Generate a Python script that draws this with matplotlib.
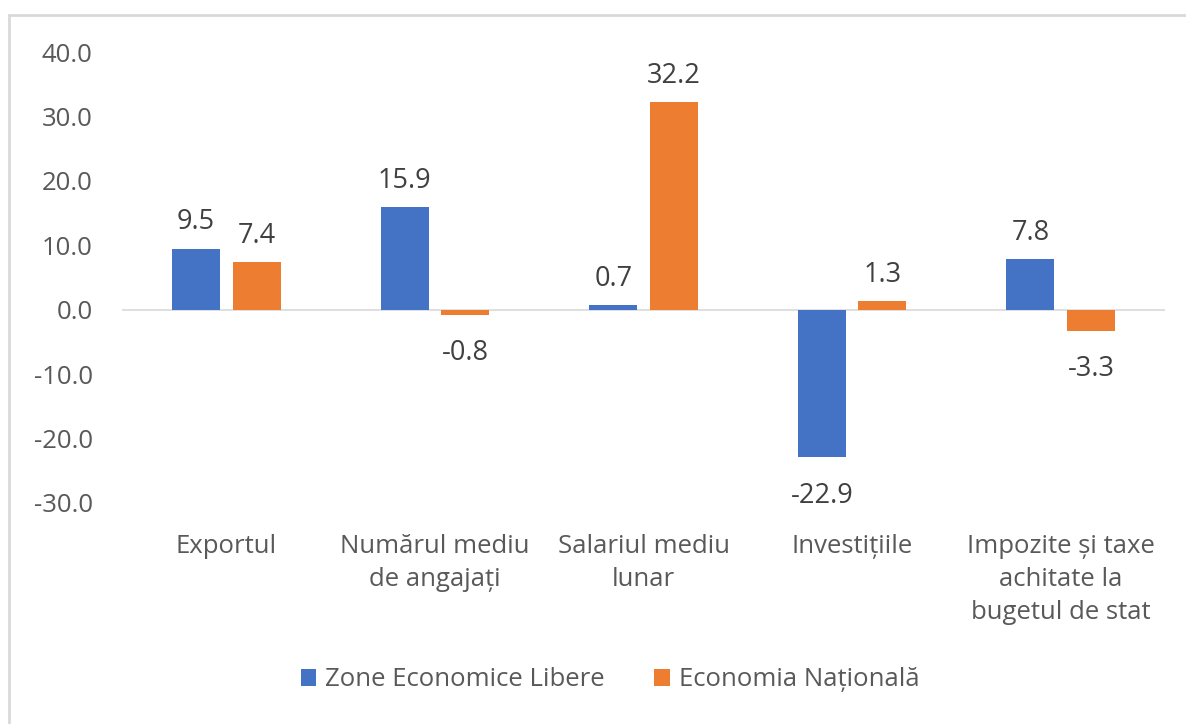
import numpy as np
import matplotlib.pyplot as plt
from matplotlib.patches import Rectangle

categories = ["Exportul", "Numărul mediu\nde angajați", "Salariul mediu\nlunar",
              "Investițiile", "Impozite și taxe\nachitate la\nbugetul de stat"]
zel = [9.5, 15.9, 0.7, -22.9, 7.8]
national = [7.4, -0.8, 32.2, 1.3, -3.3]
series_names = ["Zone Economice Libere", "Economia Națională"]

blue = "#4472C4"
orange = "#ED7D31"
gray_txt = "#595959"

plt.rcParams["font.family"] = ["Open Sans", "DejaVu Sans"]

W, H = 1186, 724
fig = plt.figure(figsize=(W / 100, H / 100), dpi=100)

# light frame around chart area
fig.patches.append(Rectangle((9 / W, -0.05), 1.1, 1 - 15 / H + 0.05, transform=fig.transFigure,
                             fill=False, edgecolor="#d9d9d9", lw=2))

ax = fig.add_axes([122 / W, 1 - 503 / H, (1165 - 122) / W, (503 - 52) / H])

x = np.arange(len(categories))
width = 0.23
off = 0.145
b1 = ax.bar(x - off, zel, width, color=blue, label=series_names[0])
b2 = ax.bar(x + off, national, width, color=orange, label=series_names[1])

ax.axhline(0, color="#d9d9d9", lw=1.2, zorder=0)

for bars, vals in [(b1, zel), (b2, national)]:
    for rect, v in zip(bars, vals):
        cx = rect.get_x() + rect.get_width() / 2
        if v >= 0:
            ax.annotate(f"{v:.1f}", (cx, v), xytext=(0, 9), textcoords="offset points",
                        ha="center", va="bottom", fontsize=19.5, color="#404040")
        else:
            ax.annotate(f"{v:.1f}", (cx, v), xytext=(0, -17.5), textcoords="offset points",
                        ha="center", va="top", fontsize=19.5, color="#404040")

ax.set_xlim(-0.5, len(categories) - 0.5)
ax.set_ylim(-30, 40)
ax.set_yticks(np.arange(-30, 41, 10))
ax.set_yticklabels([f"{t:.1f}" for t in np.arange(-30, 41, 10)])
ax.set_xticks(x)
ax.set_xticklabels(categories, linespacing=1.42)
ax.tick_params(axis="both", length=0, labelsize=18.5, labelcolor=gray_txt)
ax.tick_params(axis="x", pad=22)
ax.tick_params(axis="y", pad=21)
for s in ax.spines.values():
    s.set_visible(False)

fig.legend(loc="center", bbox_to_anchor=(610 / W, 1 - 680 / H), ncol=2, frameon=False,
           fontsize=18.5, labelcolor=gray_txt, handlelength=0.62, handleheight=0.62,
           handletextpad=0.35, columnspacing=1.9)

fig.savefig("out.png", dpi=100, facecolor="white")
